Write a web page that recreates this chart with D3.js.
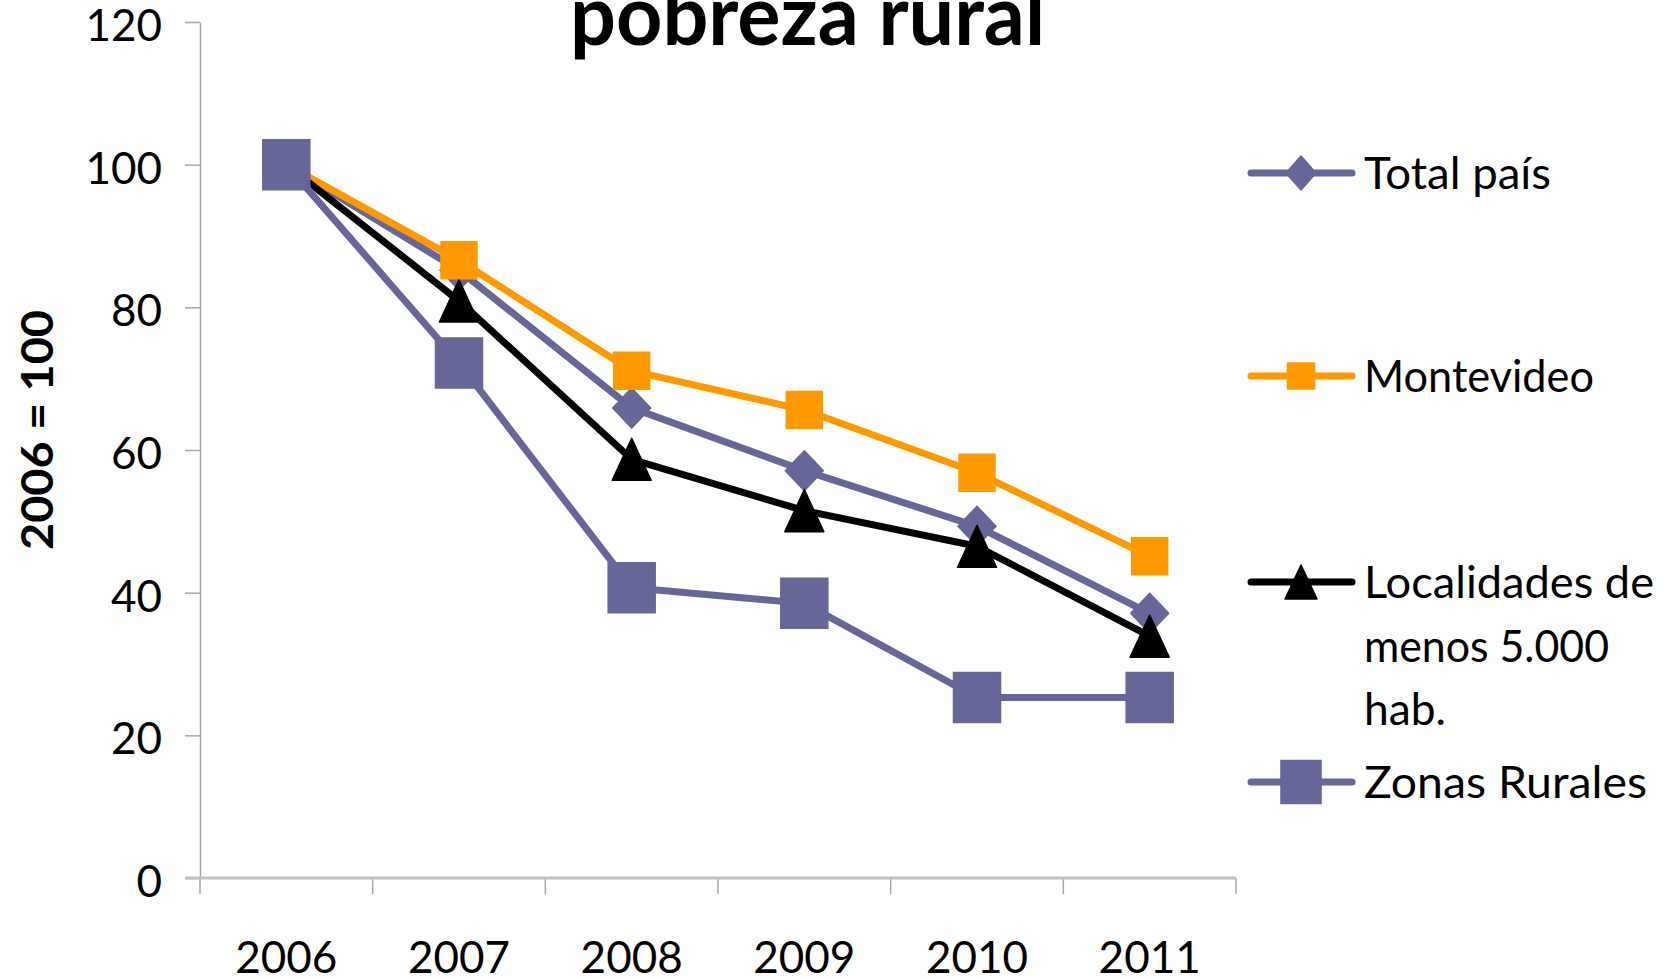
<!DOCTYPE html>
<html>
<head>
<meta charset="utf-8">
<script src="https://cdn.jsdelivr.net/npm/d3@7"></script>
<style>
    body { margin: 0; background: #fff; }
    svg { display: block; font-family: Lato, "Open Sans", sans-serif; }
</style>
</head>
<body>
<div id="pobreza-chart"></div>
<script>
// values (index 2006 = 100)
var years = ["2006", "2007", "2008", "2009", "2010", "2011"];
var totalPais    = [100, 85.2, 65.9, 57.1, 49.3, 37.1];
var montevideo   = [100, 86.6, 71.1, 65.6, 56.8, 45.1];
var localidades  = [100, 80.9, 58.7, 51.5, 46.5, 33.9];
var zonasRurales = [100, 72.2, 40.7, 38.5, 25.3, 25.3];
var yTicks = [0, 20, 40, 60, 80, 100, 120];

var seriesNames = ["Total país", "Montevideo", "Localidades de menos 5.000 hab.", "Zonas Rurales"];
var legendLines = [["Total país"], ["Montevideo"], ["Localidades de", "menos 5.000", "hab."], ["Zonas Rurales"]];
var chartTitle = "pobreza rural";
var yAxisTitle = "2006 = 100";

var povertyChart = function(containerElement){
    this.containerElement = containerElement;
    this.initializeGraph();
};

// marker outline centred on 0,0
povertyChart.prototype.shapePath = function(shape, w, h){
    if (shape === "diamond")
        return "M0," + (-h/2) + "L" + (w/2) + ",0L0," + (h/2) + "L" + (-w/2) + ",0Z";
    if (shape === "triangle")
        return "M0," + (-h/2) + "L" + (w/2) + "," + (h/2) + "L" + (-w/2) + "," + (h/2) + "Z";
    return "M" + (-w/2) + "," + (-h/2) + "h" + w + "v" + h + "h" + (-w) + "Z";
};

povertyChart.prototype.initializeGraph = function(){
    var self = this;

    this.svg = d3.select(this.containerElement)
        .append("svg")
        .attr("width", 1668)
        .attr("height", 979);

    this.svg.append("rect")
        .attr("width", 1668)
        .attr("height", 979)
        .attr("fill", "#fff");

    var x = d3.scaleBand()
        .domain(years)
        .range([200, 1236])
        .padding(0);

    var y = d3.scaleLinear()
        .domain([0, 120])
        .range([878, 22]);

    var series = [
        {name: seriesNames[0], values: totalPais, color: "#666699", shape: "diamond", w: 38, h: 40, lw: 30, lh: 34, join: "round"},
        {name: seriesNames[1], values: montevideo, color: "#FF9900", shape: "square", w: 36, h: 37, lw: 27, lh: 26, join: "round"},
        {name: seriesNames[2], values: localidades, color: "#000000", shape: "triangle", w: 39, h: 42, lw: 32, lh: 34, join: "round"},
        {name: seriesNames[3], values: zonasRurales, color: "#666699", shape: "square", w: 47, h: 50, lw: 40, lh: 43, join: "miter"}
    ];

    // Title (partly cut at the top like the original)
    this.svg.append("text")
        .attr("x", 570)
        .attr("y", 45)
        .attr("font-size", 85)
        .attr("font-weight", "bold")
        .attr("textLength", 475)
        .attr("lengthAdjust", "spacingAndGlyphs")
        .attr("fill", "#000")
        .text(chartTitle);

    // Y axis
    var yAxis = this.svg.append("g")
        .attr("class", "axis")
        .attr("transform", "translate(200,0)")
        .call(d3.axisLeft(y).tickValues(yTicks).tickSizeInner(15).tickSizeOuter(0).tickPadding(23));
    yAxis.select(".domain").attr("stroke", "#a6a6a6").attr("stroke-width", 1.5);
    yAxis.selectAll(".tick line").attr("stroke", "#a6a6a6").attr("stroke-width", 1.5);
    yAxis.selectAll(".tick text")
        .attr("font-size", 44)
        .attr("font-family", "Lato, sans-serif")
        .attr("dy", "0.42em")
        .attr("fill", "#000");

    // X axis: labels centred in bands, ticks at band edges
    var xAxis = this.svg.append("g")
        .attr("class", "axis")
        .attr("transform", "translate(0," + y(0) + ")")
        .call(d3.axisBottom(x).tickSize(0));
    xAxis.select(".domain").remove();
    xAxis.selectAll(".tick text")
        .attr("font-size", 44)
        .attr("font-family", "Lato, sans-serif")
        .attr("y", 95)
        .attr("dy", null)
        .attr("fill", "#000");

    var edges = years.map(function(d) { return x(d); }).concat([x.range()[1]]);
    xAxis.selectAll(".edge")
        .data(edges)
        .enter().append("line")
        .attr("class", "edge")
        .attr("x1", function(d) { return d; })
        .attr("x2", function(d) { return d; })
        .attr("y1", 0)
        .attr("y2", 16)
        .attr("stroke", "#a6a6a6")
        .attr("stroke-width", 1.5);

    xAxis.append("line")
        .attr("x1", 185)
        .attr("x2", x.range()[1])
        .attr("stroke", "#c0c0c0")
        .attr("stroke-width", 3);

    // Y axis title
    this.svg.append("text")
        .attr("transform", "translate(53,430) rotate(-90)")
        .attr("text-anchor", "middle")
        .attr("font-size", 44)
        .attr("font-weight", "bold")
        .attr("textLength", 240)
        .attr("lengthAdjust", "spacingAndGlyphs")
        .text(yAxisTitle);

    // Lines + markers, drawn series by series
    var line = d3.line()
        .x(function(d, i) { return x(years[i]) + x.bandwidth() / 2; })
        .y(function(d) { return y(d); });

    series.forEach(function(s){
        var g = self.svg.append("g").attr("class", "series");

        g.append("path")
            .datum(s.values)
            .attr("d", line)
            .attr("fill", "none")
            .attr("stroke", s.color)
            .attr("stroke-width", 7)
            .attr("stroke-linejoin", "round");

        g.selectAll(".marker")
            .data(s.values)
            .enter().append("path")
            .attr("class", "marker")
            .attr("transform", function(d, i) { return "translate(" + (x(years[i]) + x.bandwidth() / 2) + "," + y(d) + ")"; })
            .attr("d", self.shapePath(s.shape, s.w, s.h))
            .attr("fill", s.color)
            .attr("stroke", s.color)
            .attr("stroke-width", 1.5)
            .attr("stroke-linejoin", s.join);
    });

    // Legend
    var legendY = [173, 376, 582, 782];
    var textWidths = [[187], [230], [290, 245, 82], [283]];

    var legend = this.svg.append("g")
        .selectAll("g")
        .data(series)
        .enter().append("g")
        .attr("transform", function(d, i) { return "translate(0," + legendY[i] + ")"; });

    legend.append("line")
        .attr("x1", 1251)
        .attr("x2", 1352)
        .attr("stroke", function(d) { return d.color; })
        .attr("stroke-width", 7)
        .attr("stroke-linecap", "round");

    legend.append("path")
        .attr("transform", "translate(1301,0)")
        .attr("d", function(d) { return self.shapePath(d.shape, d.lw, d.lh); })
        .attr("fill", function(d) { return d.color; })
        .attr("stroke", function(d) { return d.color; })
        .attr("stroke-width", 1.5)
        .attr("stroke-linejoin", function(d) { return d.join; });

    legend.each(function(d, i){
        d3.select(this).selectAll("text")
            .data(legendLines[i])
            .enter().append("text")
            .attr("x", 1364)
            .attr("y", function(t, j) { return 16 + j * 63.5; })
            .attr("font-size", 44)
            .attr("textLength", function(t, j) { return textWidths[i][j]; })
            .attr("lengthAdjust", "spacingAndGlyphs")
            .attr("fill", "#000")
            .text(function(t) { return t; });
    });
};

var pobreza_chart = new povertyChart("#pobreza-chart");
</script>
</body>
</html>
